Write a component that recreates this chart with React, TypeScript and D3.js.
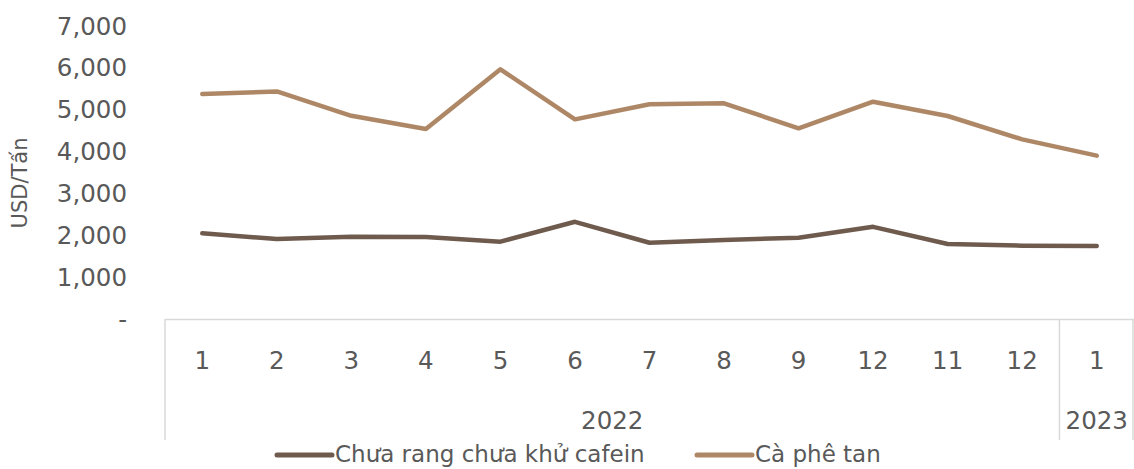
import React, { useEffect, useRef } from 'react';
import * as d3 from 'd3';

const monthLabels = ['1', '2', '3', '4', '5', '6', '7', '8', '9', '12', '11', '12', '1'];
const yearGroups = [
  { year: '2022', count: 12 },
  { year: '2023', count: 1 },
];
const chuaRang = [2045, 1910, 1965, 1957, 1845, 2320, 1820, 1885, 1940, 2200, 1790, 1750, 1742];
const caPheTan = [5370, 5430, 4850, 4535, 5960, 4765, 5125, 5148, 4550, 5186, 4845, 4288, 3898];
const yTicks = [0, 1000, 2000, 3000, 4000, 5000, 6000, 7000];

const series = [
  { name: 'Chưa rang chưa khử cafein', values: chuaRang, color: '#6F5B4E' },
  { name: 'Cà phê tan', values: caPheTan, color: '#AE8866' },
];

const W = 1134;
const H = 469;
const FONT = '"DejaVu Sans", Verdana, sans-serif';

const App: React.FC = () => {
  const svgRef = useRef<SVGSVGElement>(null);

  useEffect(() => {
    if (!svgRef.current) return;
    const svg = d3.select(svgRef.current);
    svg.selectAll('*').remove();

    const left = 165;
    const right = 1134;
    const top = 25.7;
    const bottom = 319;

    const x = d3.scaleBand<number>()
      .domain(monthLabels.map((_, i) => i))
      .range([left, right]);
    const y = d3.scaleLinear().domain([0, 7000]).range([bottom, top]);

    // y tick labels
    svg.append('g')
      .selectAll('text')
      .data(yTicks)
      .enter()
      .append('text')
      .attr('x', 127)
      .attr('y', d => y(d))
      .attr('dy', '0.36em')
      .attr('text-anchor', 'end')
      .attr('font-family', FONT)
      .attr('font-size', 24.5)
      .attr('fill', '#595959')
      .text(d => (d === 0 ? '-' : d3.format(',')(d)));

    // y axis title
    svg.append('text')
      .attr('transform', `translate(27,183) rotate(-90)`)
      .attr('text-anchor', 'middle')
      .attr('font-family', FONT)
      .attr('font-size', 21)
      .attr('fill', '#595959')
      .text('USD/Tấn');

    // category axis frame
    const axisColor = '#D9D9D9';
    svg.append('line')
      .attr('x1', left).attr('x2', right)
      .attr('y1', bottom + 0.5).attr('y2', bottom + 0.5)
      .attr('stroke', axisColor).attr('stroke-width', 1.5);

    let idx = 0;
    const dividers: number[] = [left];
    const groupCenters: { year: string; cx: number }[] = [];
    yearGroups.forEach(g => {
      const start = x(idx) as number;
      idx += g.count;
      const end = idx < monthLabels.length ? (x(idx) as number) : right;
      dividers.push(end);
      groupCenters.push({ year: g.year, cx: (start + end) / 2 });
    });

    svg.append('g')
      .selectAll('line')
      .data(dividers)
      .enter()
      .append('line')
      .attr('x1', d => Math.min(d, right - 1))
      .attr('x2', d => Math.min(d, right - 1))
      .attr('y1', bottom)
      .attr('y2', 440)
      .attr('stroke', axisColor)
      .attr('stroke-width', 1.5);

    svg.append('g')
      .selectAll('text')
      .data(monthLabels)
      .enter()
      .append('text')
      .attr('x', (_, i) => (x(i) as number) + x.bandwidth() / 2)
      .attr('y', 360)
      .attr('dy', '0.36em')
      .attr('text-anchor', 'middle')
      .attr('font-family', FONT)
      .attr('font-size', 24.5)
      .attr('fill', '#595959')
      .text(d => d);

    svg.append('g')
      .selectAll('text')
      .data(groupCenters)
      .enter()
      .append('text')
      .attr('x', d => d.cx)
      .attr('y', 420)
      .attr('dy', '0.36em')
      .attr('text-anchor', 'middle')
      .attr('font-family', FONT)
      .attr('font-size', 24.5)
      .attr('fill', '#595959')
      .text(d => d.year);

    // lines
    const line = d3.line<number>()
      .x((_, i) => (x(i) as number) + x.bandwidth() / 2)
      .y(d => y(d));

    series.forEach(s => {
      svg.append('path')
        .datum(s.values)
        .attr('d', line)
        .attr('fill', 'none')
        .attr('stroke', s.color)
        .attr('stroke-width', 4.5)
        .attr('stroke-linejoin', 'round')
        .attr('stroke-linecap', 'round');
    });

    // legend (kept just inside the bottom edge)
    const legendX = [277, 697];
    const legend = svg.append('g');
    series.forEach((s, i) => {
      legend.append('line')
        .attr('x1', legendX[i]).attr('x2', legendX[i] + 55)
        .attr('y1', 455).attr('y2', 455)
        .attr('stroke', s.color)
        .attr('stroke-width', 5)
        .attr('stroke-linecap', 'round');
      legend.append('text')
        .attr('x', legendX[i] + 58)
        .attr('y', 462)
        .attr('font-family', FONT)
        .attr('font-size', 23)
        .attr('fill', '#595959')
        .text(s.name);
    });
  }, []);

  return (
    <div style={{ position: 'absolute', left: 0, top: 0, width: W, height: H, background: '#fff' }}>
      <svg ref={svgRef} width={W} height={H} style={{ display: 'block' }}></svg>
    </div>
  );
};

export default App;
